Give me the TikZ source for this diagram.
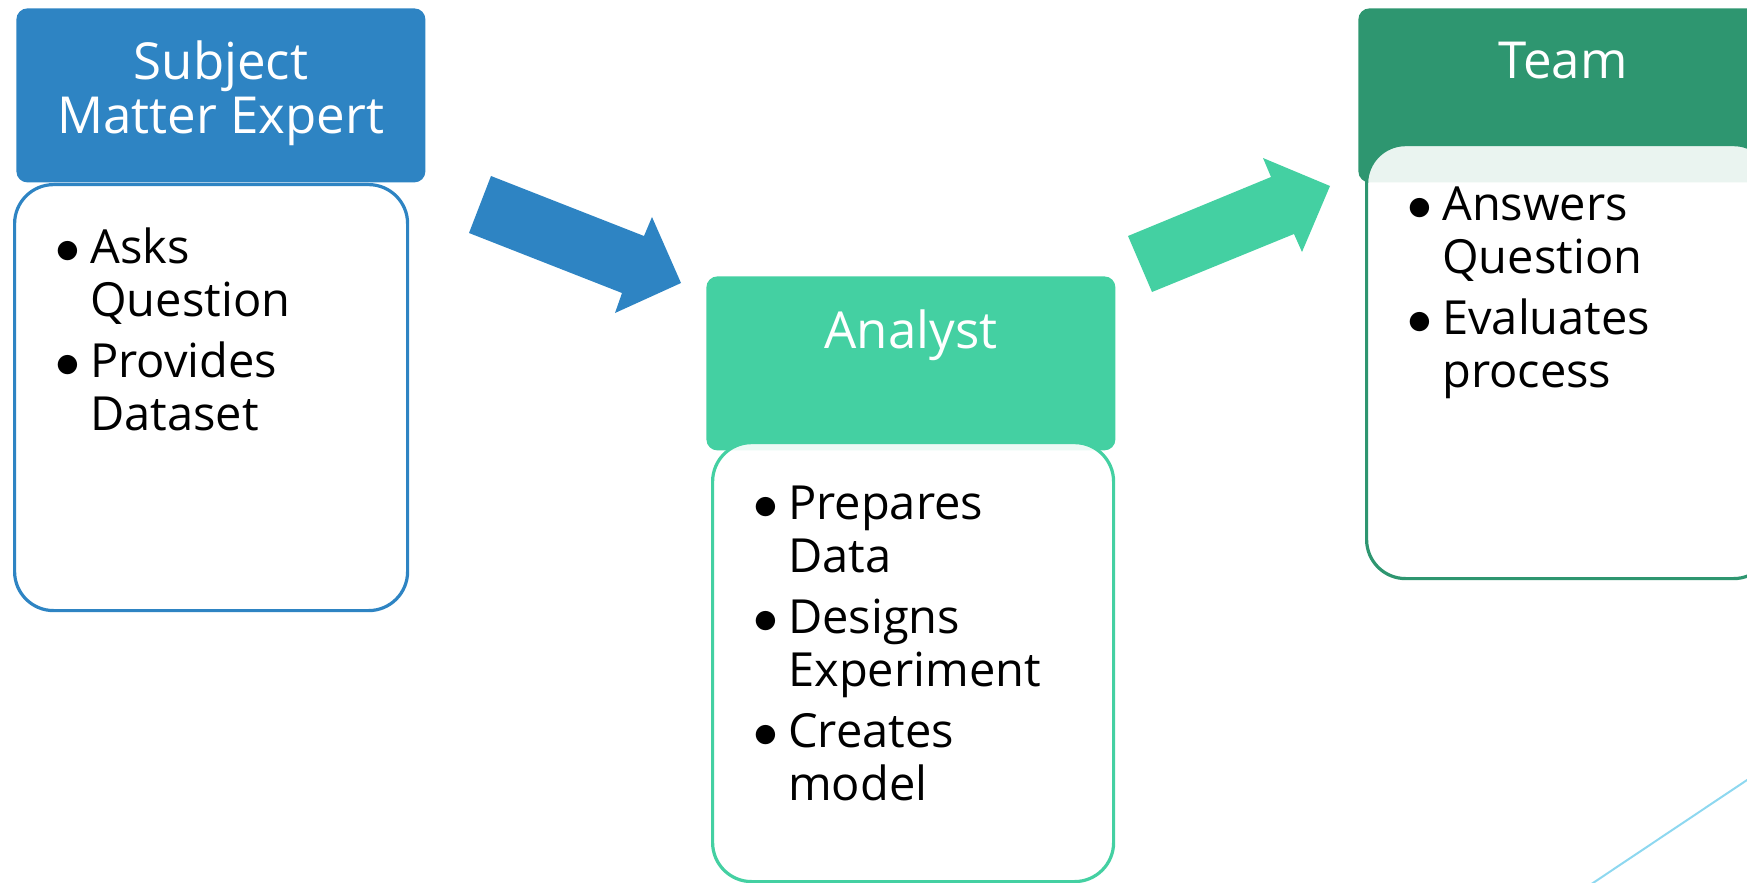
\documentclass[tikz,border=0pt]{standalone}
\usepackage{fontspec}
\setmainfont{Open Sans}
\usetikzlibrary{calc}

\definecolor{smeblue}{RGB}{46,132,195}
\definecolor{anagreen}{RGB}{68,208,162}
\definecolor{teamgreen}{RGB}{46,150,112}
\definecolor{lineblue}{RGB}{142,216,240}

\newcommand{\titlefont}{\fontsize{25.5}{27.3}\selectfont}
\newcommand{\boxfont}{\fontsize{23.5}{26.5}\selectfont}
\newcommand{\dotmark}{$\bullet$}
\newcommand{\pointlist}[1]{\begin{tabular}{@{}l@{\hspace{5pt}}l@{}}#1\end{tabular}}

\tikzset{
  headbox/.style={rectangle, rounded corners=5.5pt, minimum width=204.5pt, minimum height=87pt, anchor=north west, inner sep=0pt},
  bodybox/.style={rectangle, rounded corners=19.5pt, fill=white, fill opacity=0.9, line width=1.6pt, anchor=north west, inner sep=0pt},
  headtext/.style={anchor=north, align=center, text=white, inner sep=0pt, font=\titlefont},
  listtext/.style={anchor=north west, align=left, inner sep=0pt, font=\boxfont},
}

\begin{document}
\begin{tikzpicture}[x=0.5pt,y=0.5pt,yscale=-1,xscale=1]
\useasboundingbox (0,0) rectangle (1747,883);
\clip (0,0) rectangle (1747,883);

%Shape: Header boxes
\node[headbox, fill=smeblue] (smehead) at (16,8) {};
\node[headbox, fill=anagreen] (anahead) at (706,276) {};
\node[headbox, fill=teamgreen] (teamhead) at (1358,8) {};

%Shape: Body boxes
\node[bodybox, draw=smeblue, minimum width=196.5pt, minimum height=213pt] (smebody) at (13,183) {};
\node[bodybox, draw=anagreen, minimum width=200.5pt, minimum height=219.5pt] (anabody) at (711,441) {};
\node[bodybox, draw=teamgreen, minimum width=203pt, minimum height=217pt] (teambody) at (1365,143) {};

% Text Node
\node[headtext] (smetitle) at ($(smehead.north)+(0,32)$) {Subject\\Matter Expert};
\node[headtext] (anatitle) at ($(anahead.north)+(0,33)$) {Analyst};
\node[headtext] (teamtitle) at ($(teamhead.north)+(0,34)$) {Team};

% Text Node
\node[listtext] (smelist) at ($(smebody.north west)+(42,43)$) {\pointlist{\dotmark & Asks\\ & Question\\[4pt] \dotmark & Provides\\ & Dataset}};
\node[listtext] (analist) at ($(anabody.north west)+(42,41)$) {\pointlist{\dotmark & Prepares\\ & Data\\[4pt] \dotmark & Designs\\ & Experiment\\[4pt] \dotmark & Creates\\ & model}};
\node[listtext] (teamlist) at ($(teambody.north west)+(42,40)$) {\pointlist{\dotmark & Answers\\ & Question\\[4pt] \dotmark & Evaluates\\ & process}};

%Shape: Right Arrow
\fill[smeblue] (491,176) -- (644,236) -- (652,217) -- (681,283) -- (615,313) -- (622,293) -- (469,233) -- cycle;
%Shape: Right Arrow
\fill[anagreen] (1128,236) -- (1271,177) -- (1263,158) -- (1330,186) -- (1302,252) -- (1294,234) -- (1152,292) -- cycle;

%Straight Lines
\draw[lineblue, line width=1pt] (1762,770) -- (1578,893);

\end{tikzpicture}
\end{document}
